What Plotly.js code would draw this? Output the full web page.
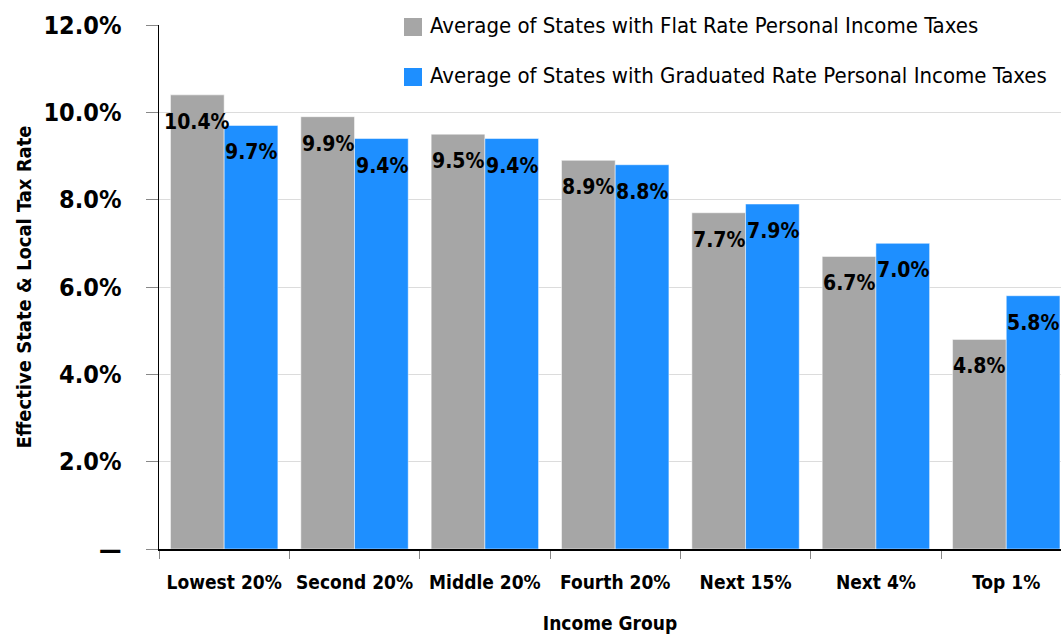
<!DOCTYPE html>
<html><head><meta charset="utf-8">
<script src="https://cdn.plot.ly/plotly-3.0.1.min.js"></script>
<style>html,body{margin:0;padding:0;background:#fff}#chart{width:1061px;height:635px}</style>
</head><body><div id="chart"></div>
<script>
var categories = ["Lowest 20%","Second 20%","Middle 20%","Fourth 20%","Next 15%","Next 4%","Top 1%"];
var flatRate = [10.4, 9.9, 9.5, 8.9, 7.7, 6.7, 4.8];
var graduatedRate = [9.7, 9.4, 9.4, 8.8, 7.9, 7.0, 5.8];
var seriesNames = ["Average of States with Flat Rate Personal Income Taxes","Average of States with Graduated Rate Personal Income Taxes"];
var seriesColors = ["#a6a6a6", "#1e8fff"];
var yTickVals = [0, 2, 4, 6, 8, 10, 12];
var yTickText = ["\u2014","2.0%","4.0%","6.0%","8.0%","10.0%","12.0%"];

var FB = "'DejaVu Sans Condensed', 'DejaVu Sans', sans-serif";
function F(size, bold){ return {family: FB, size: size, color: "#000", weight: bold ? "bold" : "normal", stretch: "condensed"}; }

var L = 159, T = 25, W = 1061 - 159, H = 549 - 25;
function px(x){ return (x - L) / W; }
function py(y){ return (T + H - y) / H; }

var series = [flatRate, graduatedRate];
var data = series.map(function(vals, i){
  return {
    type: "bar", x: categories, y: vals, name: seriesNames[i],
    marker: {color: seriesColors[i], line: {color: "#ffffff", width: 0.5}},
    hoverinfo: "skip"
  };
});

var annotations = [];
series.forEach(function(vals, i){
  vals.forEach(function(v, j){
    annotations.push({
      x: categories[j], y: v, xref: "x", yref: "y",
      text: v.toFixed(1) + "%", showarrow: false,
      xanchor: "center", yanchor: "middle",
      xshift: i === 0 ? -27 : 27, yshift: -27,
      font: F(21, true)
    });
  });
});
var shapes = [{type: "rect", xref: "paper", yref: "paper", layer: "between",
  x0: px(383), x1: 1, y0: py(100), y1: py(2), fillcolor: "#ffffff", line: {width: 0}}];
var legendY = [27, 77];
seriesNames.forEach(function(n, i){
  shapes.push({type: "rect", xref: "paper", yref: "paper",
    x0: px(404), x1: px(422), y0: py(legendY[i] + 9), y1: py(legendY[i] - 9),
    fillcolor: seriesColors[i], line: {width: 0}});
  annotations.push({xref: "paper", yref: "paper", x: px(428), y: py(legendY[i] - 1),
    xanchor: "left", yanchor: "middle", text: n, showarrow: false, font: F(22, false)});
});

var layout = {
  width: 1061, height: 635,
  margin: {l: L, r: 0, t: T, b: 635 - 549, pad: 0},
  paper_bgcolor: "#fff", plot_bgcolor: "#fff",
  barmode: "group", bargap: 0.176, bargroupgap: 0,
  font: F(14, false),
  showlegend: false,
  annotations: annotations, shapes: shapes,
  xaxis: {
    range: [-0.5, 6.42], type: "category", tickangle: 0,
    showline: true, linecolor: "#000", linewidth: 1.5,
    ticks: "outside", tickson: "boundaries", ticklen: 8, tickcolor: "#888",
    tickfont: F(19, true),
    ticklabelstandoff: 16,
    title: {text: "Income Group", font: F(19, true), standoff: 24},
    showgrid: false, fixedrange: true
  },
  yaxis: {
    range: [0, 12], tickvals: yTickVals, ticktext: yTickText,
    showline: true, linecolor: "#000", linewidth: 1.5,
    ticks: "outside", ticklen: 12, tickcolor: "#888",
    ticklabelstandoff: 19,
    tickfont: F(25, true),
    showgrid: true, gridcolor: "#dcdcdc", gridwidth: 1, zeroline: false,
    title: {text: "Effective State &amp; Local Tax Rate", font: F(20, true), standoff: 6},
    fixedrange: true
  }
};
Plotly.newPlot("chart", data, layout, {displayModeBar: false, staticPlot: true});
</script></body></html>
